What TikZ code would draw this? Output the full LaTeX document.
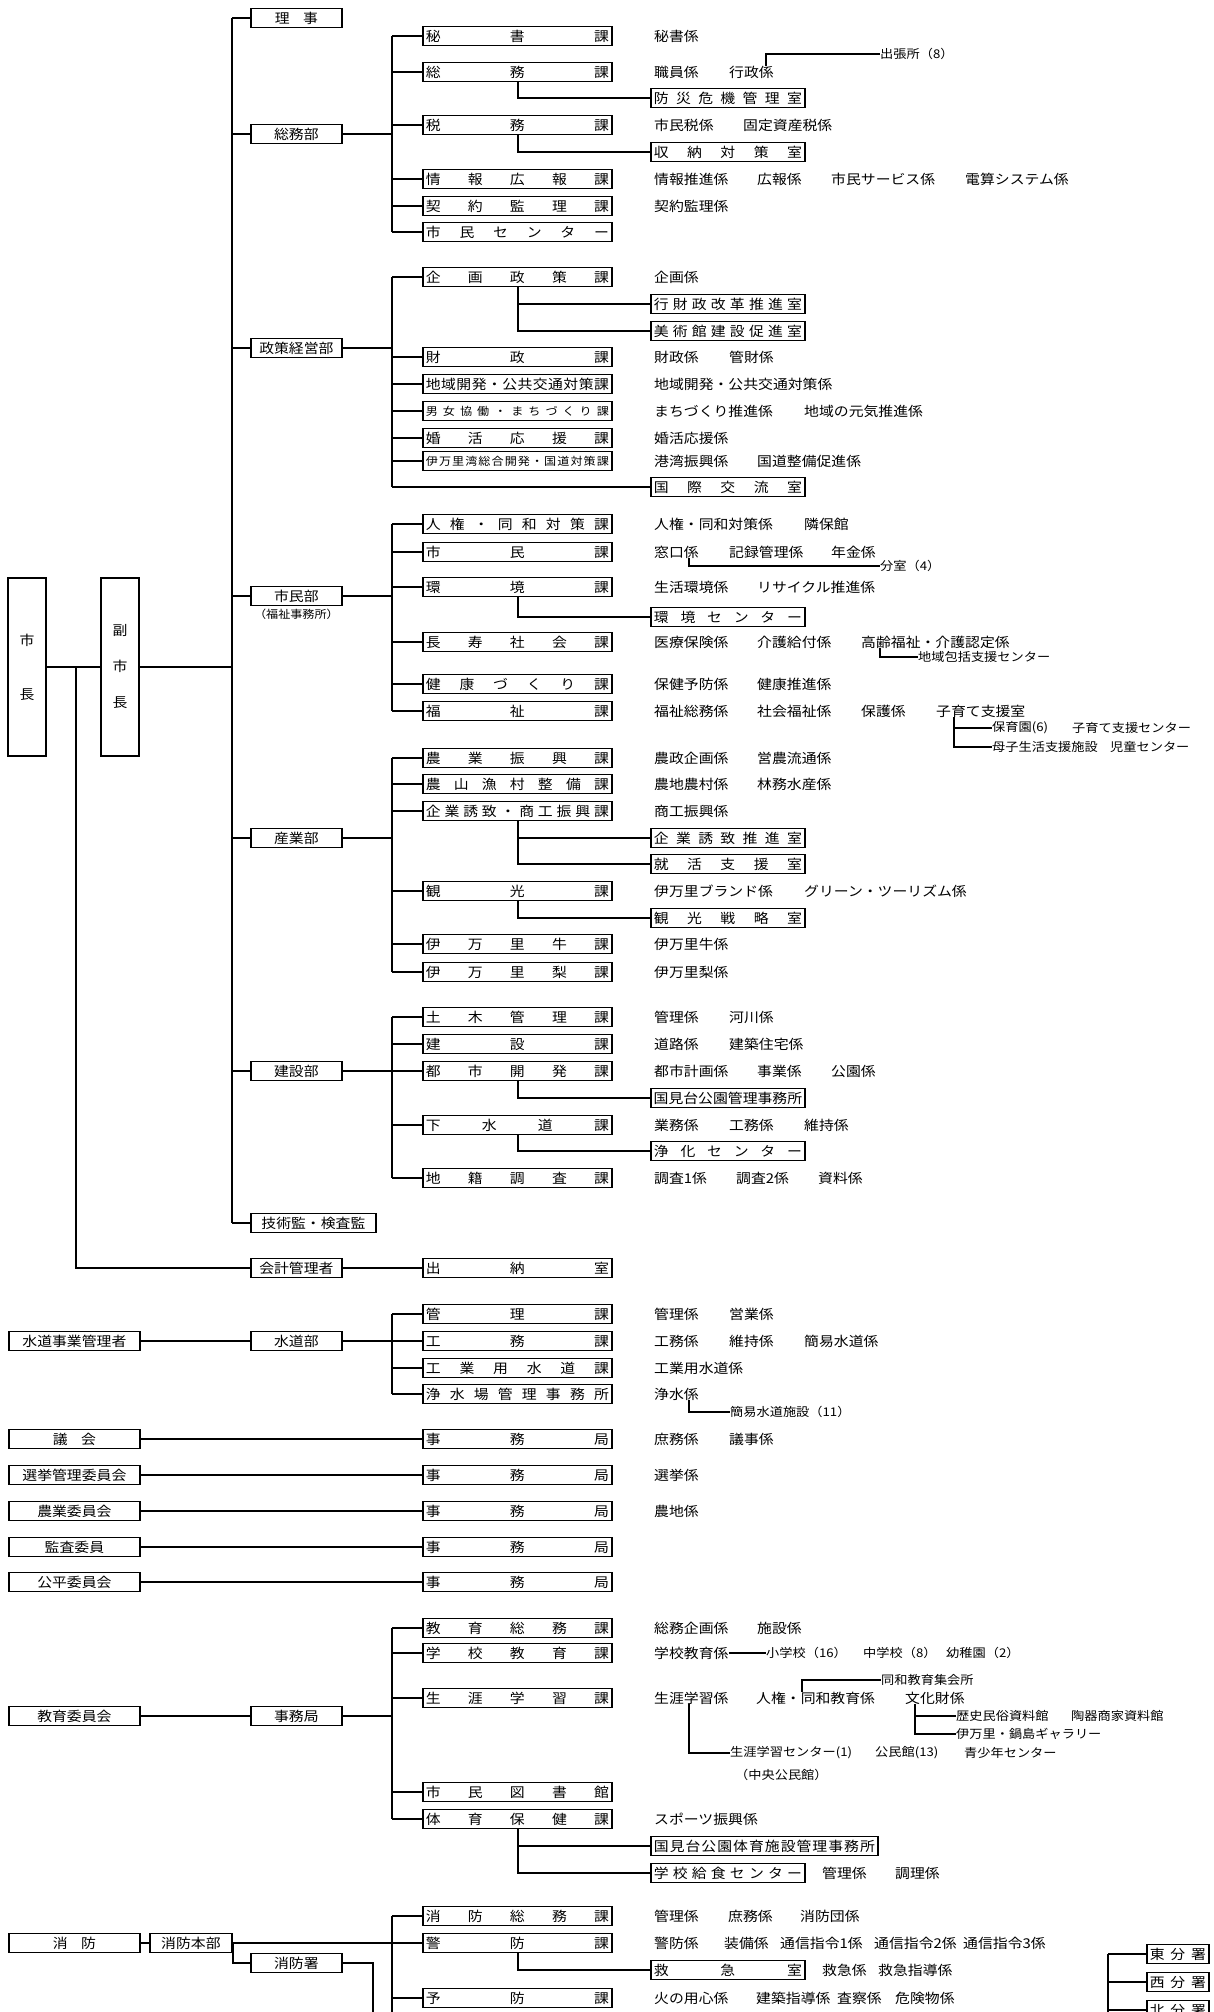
\documentclass[tikz,border=0pt]{standalone}
\usepackage{fontspec}
\setmainfont[FakeStretch=1.1]{Noto Sans CJK JP}
\usetikzlibrary{positioning}

\makeatletter
\def\spr@loop#1#2\@nil{#1\ifx\relax#2\relax\else\hfill\spr@loop#2\@nil\fi}
\newcommand\spread[2]{\makebox[#1]{\spr@loop#2\@nil}}
\makeatother
\newcommand\kan[1]{\spread{183pt}{#1}}
\newcommand\shn[1]{\spread{148pt}{#1}}

\tikzset{
  ln/.style={line width=1.6pt},
  bx/.style={draw, line width=1.8pt, inner sep=0pt, minimum height=19pt, anchor=west},
  ka/.style={bx, minimum width=189pt},
  kasm/.style={ka, font=\fontsize{11pt}{13pt}\selectfont},
  shitsu/.style={bx, minimum width=154pt},
  bu/.style={bx, minimum width=91pt},
  hidari/.style={bx, minimum width=131pt},
  kk/.style={anchor=west, inner sep=0pt},
  sm/.style={kk, font=\fontsize{12pt}{14pt}\selectfont},
}

\begin{document}
\begin{tikzpicture}[x=1pt, y=-1pt, font=\fontsize{13.5pt}{16pt}\selectfont]
  \useasboundingbox (0,0) rectangle (1213,2012);
  \clip (0,0) rectangle (1213,2012);

  % assi verticali
  \coordinate (tr) at (232,0);
  \coordinate (sv) at (392,0);
  \coordinate (sb) at (518,0);
  \coordinate (kj) at (76,667);

  % vertici principali
  \node[draw, line width=1.8pt, inner sep=0pt, minimum width=38pt, minimum height=178pt, align=center] (shicho) at (27,667) {市\\[38pt]長};
  \node[draw, line width=1.8pt, inner sep=0pt, minimum width=38pt, minimum height=178pt, align=center] (fuku) at (120,667) {副\\[20pt]市\\[20pt]長};

  \node[bu] (riji) at (250,18) {理\quad 事};
  \node[bu] (soumu) at (250,134) {総務部};
  \node[bu] (seisaku) at (250,348) {政策経営部};
  \node[bu] (shimin) at (250,596) {市民部};
  \node[sm, font=\fontsize{11pt}{13pt}\selectfont, below=2pt of shimin] (fukushi) {（福祉事務所）};
  \node[bu] (sangyo) at (250,838) {産業部};
  \node[bu] (kensetsu) at (250,1071) {建設部};
  \node[bu, minimum width=125pt] (gikan) at (250,1223) {技術監・検査監};
  \node[bu] (kaikei) at (250,1268) {会計管理者};

  \draw[ln] (shicho.east) -- (fuku.west);
  \draw[ln] (fuku.east) -- (fuku.east -| tr);
  \draw[ln] (kj) |- (kaikei.west);
  \draw[ln] (riji.west -| tr) -- (gikan.west -| tr);
  \foreach \n in {riji,soumu,seisaku,shimin,sangyo,kensetsu,gikan}
    \draw[ln] (\n.west) -- (\n.west -| tr);

  % 総務部
  \node[ka] (a1) at (422,36) {\kan{秘書課}};
  \node[ka] (a2) at (422,72) {\kan{総務課}};
  \node[ka] (a3) at (422,125) {\kan{税務課}};
  \node[ka] (a4) at (422,179) {\kan{情報広報課}};
  \node[ka] (a5) at (422,206) {\kan{契約監理課}};
  \node[ka] (a6) at (422,232) {\kan{市民センター}};
  \node[shitsu] (a7) at (650,98) {\shn{防災危機管理室}};
  \node[shitsu] (a8) at (650,152) {\shn{収納対策室}};
  \node[kk] (ta1) at (654,36) {秘書係};
  \node[kk] (ta2) at (654,72) {職員係};
  \node[kk] (ta3) at (729,72) {行政係};
  \node[sm] (ta4) at (880,54) {出張所（8）};
  \node[kk] (ta5) at (654,125) {市民税係};
  \node[kk] (ta6) at (743,125) {固定資産税係};
  \node[kk] (ta7) at (654,179) {情報推進係};
  \node[kk] (ta8) at (757,179) {広報係};
  \node[kk] (ta9) at (831,179) {市民サービス係};
  \node[kk] (ta10) at (965,179) {電算システム係};
  \node[kk] (ta11) at (654,206) {契約監理係};
  \draw[ln] (soumu.east) -- (soumu.east -| sv);
  \draw[ln] (a1.west -| sv) -- (a6.west -| sv);
  \foreach \n in {a1,a2,a3,a4,a5,a6}
    \draw[ln] (\n.west) -- (\n.west -| sv);
  \draw[ln] (a2.south -| sb) |- (a7.west);
  \draw[ln] (a3.south -| sb) |- (a8.west);
  \draw[ln] ([xshift=-8pt]ta3.north east) |- (ta4.west);

  % 政策経営部
  \node[ka] (b1) at (422,277) {\kan{企画政策課}};
  \node[ka] (b2) at (422,357) {\kan{財政課}};
  \node[ka] (b3) at (422,384) {\kan{地域開発・公共交通対策課}};
  \node[kasm] (b4) at (422,411) {\kan{男女協働・まちづくり課}};
  \node[ka] (b5) at (422,438) {\kan{婚活応援課}};
  \node[kasm] (b6) at (422,461) {\kan{伊万里湾総合開発・国道対策課}};
  \node[shitsu] (b7) at (650,304) {\shn{行財政改革推進室}};
  \node[shitsu] (b8) at (650,331) {\shn{美術館建設促進室}};
  \node[shitsu] (b9) at (650,487) {\shn{国際交流室}};
  \node[kk] (tb1) at (654,277) {企画係};
  \node[kk] (tb2) at (654,357) {財政係};
  \node[kk] (tb3) at (729,357) {管財係};
  \node[kk] (tb4) at (654,384) {地域開発・公共交通対策係};
  \node[kk] (tb5) at (654,411) {まちづくり推進係};
  \node[kk] (tb6) at (804,411) {地域の元気推進係};
  \node[kk] (tb7) at (654,438) {婚活応援係};
  \node[kk] (tb8) at (654,461) {港湾振興係};
  \node[kk] (tb9) at (757,461) {国道整備促進係};
  \draw[ln] (seisaku.east) -- (seisaku.east -| sv);
  \draw[ln] (b1.west -| sv) -- (b9.west -| sv);
  \foreach \n in {b1,b2,b3,b4,b5,b6,b9}
    \draw[ln] (\n.west) -- (\n.west -| sv);
  \draw[ln] (b1.south -| sb) |- (b7.west);
  \draw[ln] (b1.south -| sb) |- (b8.west);

  % 市民部
  \node[ka] (c1) at (422,524) {\kan{人権・同和対策課}};
  \node[ka] (c2) at (422,552) {\kan{市民課}};
  \node[ka] (c3) at (422,587) {\kan{環境課}};
  \node[ka] (c4) at (422,642) {\kan{長寿社会課}};
  \node[ka] (c5) at (422,684) {\kan{健康づくり課}};
  \node[ka] (c6) at (422,711) {\kan{福祉課}};
  \node[shitsu] (c7) at (650,617) {\shn{環境センター}};
  \node[kk] (tc1) at (654,524) {人権・同和対策係};
  \node[kk] (tc2) at (804,524) {隣保館};
  \node[kk] (tc3) at (654,552) {窓口係};
  \node[kk] (tc4) at (729,552) {記録管理係};
  \node[kk] (tc5) at (831,552) {年金係};
  \node[sm] (tc6) at (880,566) {分室（4）};
  \node[kk] (tc7) at (654,587) {生活環境係};
  \node[kk] (tc8) at (757,587) {リサイクル推進係};
  \node[kk] (tc9) at (654,642) {医療保険係};
  \node[kk] (tc10) at (757,642) {介護給付係};
  \node[kk] (tc11) at (861,642) {高齢福祉・介護認定係};
  \node[sm] (tc12) at (918,657) {地域包括支援センター};
  \node[kk] (tc13) at (654,684) {保健予防係};
  \node[kk] (tc14) at (757,684) {健康推進係};
  \node[kk] (tc15) at (654,711) {福祉総務係};
  \node[kk] (tc16) at (757,711) {社会福祉係};
  \node[kk] (tc17) at (861,711) {保護係};
  \node[kk] (tc18) at (936,711) {子育て支援室};
  \node[sm] (tc19) at (992,728) {保育園(6)};
  \node[sm] (tc20) at (1072,728) {子育て支援センター};
  \node[sm] (tc21) at (992,747) {母子生活支援施設};
  \node[sm] (tc22) at (1110,747) {児童センター};
  \draw[ln] (shimin.east) -- (shimin.east -| sv);
  \draw[ln] (c1.west -| sv) -- (c6.west -| sv);
  \foreach \n in {c1,c2,c3,c4,c5,c6}
    \draw[ln] (\n.west) -- (\n.west -| sv);
  \draw[ln] (c3.south -| sb) |- (c7.west);
  \draw[ln] ([xshift=-10pt]tc3.south east) |- (tc6.west);
  \draw[ln] ([xshift=19pt]tc11.south west) |- (tc12.west);
  \draw[ln] ([xshift=18pt]tc18.south west) |- (tc19.west);
  \draw[ln] ([xshift=18pt]tc18.south west) |- (tc21.west);

  % 産業部
  \node[ka] (d1) at (422,758) {\kan{農業振興課}};
  \node[ka] (d2) at (422,784) {\kan{農山漁村整備課}};
  \node[ka] (d3) at (422,811) {\kan{企業誘致・商工振興課}};
  \node[ka] (d4) at (422,891) {\kan{観光課}};
  \node[ka] (d5) at (422,944) {\kan{伊万里牛課}};
  \node[ka] (d6) at (422,972) {\kan{伊万里梨課}};
  \node[shitsu] (d7) at (650,838) {\shn{企業誘致推進室}};
  \node[shitsu] (d8) at (650,864) {\shn{就活支援室}};
  \node[shitsu] (d9) at (650,918) {\shn{観光戦略室}};
  \node[kk] (td1) at (654,758) {農政企画係};
  \node[kk] (td2) at (757,758) {営農流通係};
  \node[kk] (td3) at (654,784) {農地農村係};
  \node[kk] (td4) at (757,784) {林務水産係};
  \node[kk] (td5) at (654,811) {商工振興係};
  \node[kk] (td6) at (654,891) {伊万里ブランド係};
  \node[kk] (td7) at (804,891) {グリーン・ツーリズム係};
  \node[kk] (td8) at (654,944) {伊万里牛係};
  \node[kk] (td9) at (654,972) {伊万里梨係};
  \draw[ln] (sangyo.east) -- (sangyo.east -| sv);
  \draw[ln] (d1.west -| sv) -- (d6.west -| sv);
  \foreach \n in {d1,d2,d3,d4,d5,d6}
    \draw[ln] (\n.west) -- (\n.west -| sv);
  \draw[ln] (d3.south -| sb) |- (d7.west);
  \draw[ln] (d3.south -| sb) |- (d8.west);
  \draw[ln] (d4.south -| sb) |- (d9.west);

  % 建設部
  \node[ka] (e1) at (422,1017) {\kan{土木管理課}};
  \node[ka] (e2) at (422,1044) {\kan{建設課}};
  \node[ka] (e3) at (422,1071) {\kan{都市開発課}};
  \node[ka] (e4) at (422,1125) {\kan{下水道課}};
  \node[ka] (e5) at (422,1178) {\kan{地籍調査課}};
  \node[shitsu] (e6) at (650,1098) {\shn{国見台公園管理事務所}};
  \node[shitsu] (e7) at (650,1151) {\shn{浄化センター}};
  \node[kk] (te1) at (654,1017) {管理係};
  \node[kk] (te2) at (729,1017) {河川係};
  \node[kk] (te3) at (654,1044) {道路係};
  \node[kk] (te4) at (729,1044) {建築住宅係};
  \node[kk] (te5) at (654,1071) {都市計画係};
  \node[kk] (te6) at (757,1071) {事業係};
  \node[kk] (te7) at (831,1071) {公園係};
  \node[kk] (te8) at (654,1125) {業務係};
  \node[kk] (te9) at (729,1125) {工務係};
  \node[kk] (te10) at (804,1125) {維持係};
  \node[kk] (te11) at (654,1178) {調査1係};
  \node[kk] (te12) at (736,1178) {調査2係};
  \node[kk] (te13) at (818,1178) {資料係};
  \draw[ln] (kensetsu.east) -- (kensetsu.east -| sv);
  \draw[ln] (e1.west -| sv) -- (e5.west -| sv);
  \foreach \n in {e1,e2,e3,e4,e5}
    \draw[ln] (\n.west) -- (\n.west -| sv);
  \draw[ln] (e3.south -| sb) |- (e6.west);
  \draw[ln] (e4.south -| sb) |- (e7.west);

  % 会計管理者
  \node[ka] (f1) at (422,1268) {\kan{出納室}};
  \draw[ln] (kaikei.east) -- (f1.west);

  % 水道部
  \node[hidari] (w0) at (8,1341) {水道事業管理者};
  \node[bu] (suido) at (250,1341) {水道部};
  \node[ka] (g1) at (422,1314) {\kan{管理課}};
  \node[ka] (g2) at (422,1341) {\kan{工務課}};
  \node[ka] (g3) at (422,1368) {\kan{工業用水道課}};
  \node[ka] (g4) at (422,1394) {\kan{浄水場管理事務所}};
  \node[kk] (tg1) at (654,1314) {管理係};
  \node[kk] (tg2) at (729,1314) {営業係};
  \node[kk] (tg3) at (654,1341) {工務係};
  \node[kk] (tg4) at (729,1341) {維持係};
  \node[kk] (tg5) at (804,1341) {簡易水道係};
  \node[kk] (tg6) at (654,1368) {工業用水道係};
  \node[kk] (tg7) at (654,1394) {浄水係};
  \node[sm] (tg8) at (730,1412) {簡易水道施設（11）};
  \draw[ln] (w0.east) -- (suido.west);
  \draw[ln] (suido.east) -- (suido.east -| sv);
  \draw[ln] (g1.west -| sv) -- (g4.west -| sv);
  \foreach \n in {g1,g2,g3,g4}
    \draw[ln] (\n.west) -- (\n.west -| sv);
  \draw[ln] ([xshift=-10pt]tg7.south east) |- (tg8.west);

  % 行政委員会
  \node[hidari] (gikai) at (8,1439) {議\quad 会};
  \node[hidari] (senkyo) at (8,1475) {選挙管理委員会};
  \node[hidari] (nogyo) at (8,1511) {農業委員会};
  \node[hidari] (kansa) at (8,1547) {監査委員};
  \node[hidari] (kohei) at (8,1582) {公平委員会};
  \node[ka] (m1) at (422,1439) {\kan{事務局}};
  \node[ka] (m2) at (422,1475) {\kan{事務局}};
  \node[ka] (m3) at (422,1511) {\kan{事務局}};
  \node[ka] (m4) at (422,1547) {\kan{事務局}};
  \node[ka] (m5) at (422,1582) {\kan{事務局}};
  \node[kk] (tm1) at (654,1439) {庶務係};
  \node[kk] (tm2) at (729,1439) {議事係};
  \node[kk] (tm3) at (654,1475) {選挙係};
  \node[kk] (tm4) at (654,1511) {農地係};
  \draw[ln] (gikai.east) -- (m1.west);
  \draw[ln] (senkyo.east) -- (m2.west);
  \draw[ln] (nogyo.east) -- (m3.west);
  \draw[ln] (kansa.east) -- (m4.west);
  \draw[ln] (kohei.east) -- (m5.west);

  % 教育委員会
  \node[hidari] (kyoiku) at (8,1716) {教育委員会};
  \node[bu] (kjimu) at (250,1716) {事務局};
  \node[ka] (h1) at (422,1628) {\kan{教育総務課}};
  \node[ka] (h2) at (422,1653) {\kan{学校教育課}};
  \node[ka] (h3) at (422,1698) {\kan{生涯学習課}};
  \node[ka] (h4) at (422,1792) {\kan{市民図書館}};
  \node[ka] (h5) at (422,1819) {\kan{体育保健課}};
  \node[bx, minimum width=227pt] (h6) at (650,1846) {\spread{221pt}{国見台公園体育施設管理事務所}};
  \node[shitsu] (h7) at (650,1873) {\shn{学校給食センター}};
  \node[kk] (th1) at (654,1628) {総務企画係};
  \node[kk] (th2) at (757,1628) {施設係};
  \node[kk] (th3) at (654,1653) {学校教育係};
  \node[sm] (th4) at (766,1653) {小学校（16）};
  \node[sm] (th5) at (863,1653) {中学校（8）};
  \node[sm] (th6) at (946,1653) {幼稚園（2）};
  \node[kk] (th7) at (654,1698) {生涯学習係};
  \node[kk] (th8) at (756,1698) {人権・同和教育係};
  \node[kk] (th9) at (905,1698) {文化財係};
  \node[sm] (th10) at (881,1680) {同和教育集会所};
  \node[sm] (th11) at (956,1716) {歴史民俗資料館};
  \node[sm] (th12) at (1071,1716) {陶器商家資料館};
  \node[sm] (th13) at (956,1734) {伊万里・鍋島ギャラリー};
  \node[sm] (th14) at (730,1753) {生涯学習センター(1)};
  \node[sm] (th15) at (875,1753) {公民館(13)};
  \node[sm] (th16) at (964,1753) {青少年センター};
  \node[sm] (th17) at (735,1775) {（中央公民館）};
  \node[kk] (th18) at (654,1819) {スポーツ振興係};
  \node[kk] (th19) at (822,1873) {管理係};
  \node[kk] (th20) at (895,1873) {調理係};
  \draw[ln] (kyoiku.east) -- (kjimu.west);
  \draw[ln] (kjimu.east) -- (kjimu.east -| sv);
  \draw[ln] (h1.west -| sv) -- (h5.west -| sv);
  \foreach \n in {h1,h2,h3,h4,h5}
    \draw[ln] (\n.west) -- (\n.west -| sv);
  \draw[ln] (h5.south -| sb) |- (h6.west);
  \draw[ln] (h5.south -| sb) |- (h7.west);
  \draw[ln] (th3.east) -- (th4.west);
  \draw[ln] ([xshift=46pt]th8.north west) |- (th10.west);
  \draw[ln] ([xshift=10pt]th9.south west) |- (th11.west);
  \draw[ln] ([xshift=10pt]th9.south west) |- (th13.west);
  \draw[ln] ([xshift=35pt]th7.south west) |- (th14.west);

  % 消防
  \coordinate (fe1) at (392,2030);
  \coordinate (fe2) at (373,2030);
  \coordinate (fe3) at (1108,2030);
  \node[hidari] (shobo) at (8,1943) {消\quad 防};
  \node[bx, minimum width=82pt] (honbu) at (149,1943) {消防本部};
  \node[bu] (shosho) at (250,1963) {消防署};
  \node[ka] (i1) at (422,1916) {\kan{消防総務課}};
  \node[ka] (i2) at (422,1943) {\kan{警防課}};
  \node[ka] (i3) at (422,1998) {\kan{予防課}};
  \node[shitsu] (i4) at (650,1970) {\shn{救急室}};
  \node[bx, minimum width=62pt] (j1) at (1146,1954) {\spread{56pt}{東分署}};
  \node[bx, minimum width=62pt] (j2) at (1146,1982) {\spread{56pt}{西分署}};
  \node[bx, minimum width=62pt] (j3) at (1146,2010) {\spread{56pt}{北分署}};
  \node[kk] (ti1) at (654,1916) {管理係};
  \node[kk] (ti2) at (728,1916) {庶務係};
  \node[kk] (ti3) at (800,1916) {消防団係};
  \node[kk] (ti4) at (654,1943) {警防係};
  \node[kk] (ti5) at (724,1943) {装備係};
  \node[kk] (ti6) at (780,1943) {通信指令1係};
  \node[kk] (ti7) at (874,1943) {通信指令2係};
  \node[kk] (ti8) at (963,1943) {通信指令3係};
  \node[kk] (ti9) at (822,1970) {救急係};
  \node[kk] (ti10) at (878,1970) {救急指導係};
  \node[kk] (ti11) at (654,1998) {火の用心係};
  \node[kk] (ti12) at (756,1998) {建築指導係};
  \node[kk] (ti13) at (837,1998) {査察係};
  \node[kk] (ti14) at (895,1998) {危険物係};
  \draw[ln] (shobo.east) -- (honbu.west);
  \draw[ln] (honbu.east) -- (honbu.east -| sv);
  \draw[ln] (honbu.east) |- (shosho.west);
  \draw[ln] (shosho.east) -| (fe2);
  \draw[ln] (i1.west -| sv) -- (fe1);
  \foreach \n in {i1,i2,i3}
    \draw[ln] (\n.west) -- (\n.west -| sv);
  \draw[ln] (i2.south -| sb) |- (i4.west);
  \draw[ln] (j1.west -| fe3) -- (fe3);
  \foreach \n in {j1,j2,j3}
    \draw[ln] (\n.west) -- (\n.west -| fe3);
\end{tikzpicture}
\end{document}
